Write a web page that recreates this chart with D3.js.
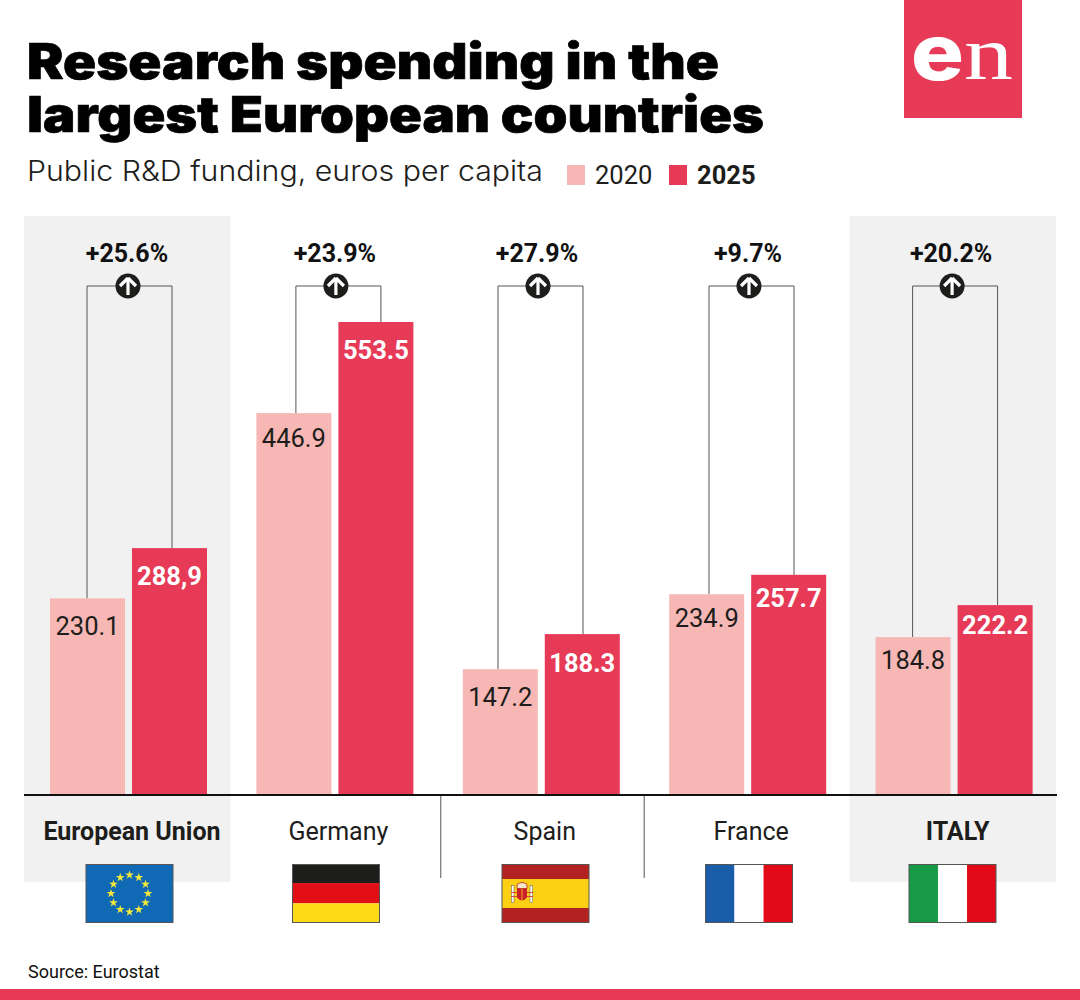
<!DOCTYPE html>
<html>
<head>
<meta charset="utf-8">
<script src="https://cdn.jsdelivr.net/npm/d3@7"></script>
<style>
    html, body { margin: 0; padding: 0; background: #fff; }
    svg { display: block; }
    text { font-family: Roboto, sans-serif; fill: #1d1d1b; }
</style>
</head>
<body>
<svg id="chart"></svg>
<script>
// Data
const countries = ['European Union', 'Germany', 'Spain', 'France', 'ITALY'];
const years = ['2020', '2025'];
const values2020 = [230.1, 446.9, 147.2, 234.9, 184.8];
const values2025 = [288.9, 553.5, 188.3, 257.7, 222.2];
const labels2020 = ['230.1', '446.9', '147.2', '234.9', '184.8'];
const labels2025 = ['288,9', '553.5', '188.3', '257.7', '222.2'];
const changes = ['+25.6%', '+23.9%', '+27.9%', '+9.7%', '+20.2%'];
const highlighted = ['European Union', 'ITALY'];

const width = 1080, height = 1000;
const red = '#e63a56', pale = '#f7b8b5', grey = '#f1f1f1', ink = '#1d1d1b';

// The original was laid out by hand, so these are small per-country nudges
const labelNudge2020 = [1, -2, 1, -3, -4];
const labelNudge2025 = [0, 0, 1, -5, -8];
const badgeNudge = [-0.5, 1, -3.3, 1.3, -2];
const bracketNudge = [1, 3.5, -0.8, 3.8, 1];

const svg = d3.select('#chart')
    .attr('width', width)
    .attr('height', height);

// Scales
const xScale = d3.scaleBand()
    .domain(countries)
    .range([24, 1056]);

const xYear = d3.scaleBand()
    .domain(years)
    .range([26, 183])
    .paddingInner(0.085);

const yScale = d3.scaleLinear()
    .domain([0, 553.5])
    .range([795, 322]);

const rows = countries.map((c, i) => ({
    country: c,
    v2020: values2020[i],
    v2025: values2025[i],
    l2020: labels2020[i],
    l2025: labels2025[i],
    change: changes[i],
    n2020: labelNudge2020[i],
    n2025: labelNudge2025[i],
    nBadge: badgeNudge[i],
    nBracket: bracketNudge[i]
}));

// Grey panels behind EU and Italy
svg.selectAll('.panel')
    .data(highlighted)
    .enter()
    .append('rect')
    .attr('class', 'panel')
    .attr('x', d => xScale(d))
    .attr('y', 216)
    .attr('width', xScale.bandwidth())
    .attr('height', 666)
    .attr('fill', grey);

// Title block
const title = svg.append('text')
    .style('font-family', 'Inter, sans-serif')
    .style('font-weight', 900)
    .style('font-size', '49px')
    .style('fill', '#000')
    .style('stroke', '#000')
    .style('stroke-width', 0.7);

title.append('tspan').attr('x', 27).attr('y', 79).attr('textLength', 692)
    .attr('lengthAdjust', 'spacingAndGlyphs').text('Research spending in the');
title.append('tspan').attr('x', 27).attr('y', 132).attr('textLength', 737)
    .attr('lengthAdjust', 'spacingAndGlyphs').text('largest European countries');

svg.append('text')
    .attr('x', 27)
    .attr('y', 181)
    .attr('textLength', 516)
    .attr('lengthAdjust', 'spacingAndGlyphs')
    .style('font-family', 'Inter, sans-serif')
    .style('font-weight', 300)
    .style('font-size', '28px')
    .text('Public R&D funding, euros per capita');

// Legend
const legendX = d3.scaleOrdinal().domain(years).range([567, 669]);
const legend = svg.selectAll('.legend')
    .data(years)
    .enter()
    .append('g')
    .attr('class', 'legend')
    .attr('transform', d => `translate(${legendX(d)},165)`);

legend.append('rect')
    .attr('width', 18)
    .attr('height', 20)
    .attr('fill', d => d === '2020' ? pale : red);

legend.append('text')
    .attr('x', 28)
    .attr('y', 19)
    .style('font-size', '25.5px')
    .style('font-weight', d => d === '2025' ? 700 : 400)
    .text(d => d);

// Logo
svg.append('rect').attr('x', 904).attr('y', 0).attr('width', 118).attr('height', 118).attr('fill', red);
svg.append('text').attr('x', 911).attr('y', 80).attr('textLength', 53).attr('lengthAdjust', 'spacingAndGlyphs')
    .style('font-family', 'Inter, sans-serif').style('font-weight', 800).style('font-size', '78px')
    .style('fill', '#fff').text('e');
svg.append('text').attr('x', 964).attr('y', 79).attr('textLength', 49).attr('lengthAdjust', 'spacingAndGlyphs')
    .style('font-family', '"Liberation Serif", serif').style('font-size', '76px')
    .style('fill', '#fff').text('n');

// Bars and labels
const groups = svg.selectAll('.group')
    .data(rows)
    .enter()
    .append('g')
    .attr('class', 'group')
    .attr('transform', d => `translate(${xScale(d.country)},0)`);

const mid2020 = xYear('2020') + xYear.bandwidth() / 2;
const mid2025 = xYear('2025') + xYear.bandwidth() / 2;
const midGroup = (mid2020 + mid2025) / 2;

// Brackets above the bars
groups.append('path')
    .attr('d', d => {
        const top = yScale(553.5) - 36;
        const c = midGroup + d.nBracket;
        return d3.line()([
            [c - 42.5, yScale(d.v2020)],
            [c - 42.5, top],
            [c + 42.5, top],
            [c + 42.5, yScale(d.v2025)]
        ]);
    })
    .attr('fill', 'none')
    .attr('stroke', '#555')
    .attr('stroke-width', 1);

groups.append('rect')
    .attr('x', xYear('2020'))
    .attr('y', d => yScale(d.v2020))
    .attr('width', xYear.bandwidth())
    .attr('height', d => yScale(0) - yScale(d.v2020))
    .attr('fill', pale);

groups.append('rect')
    .attr('x', xYear('2025'))
    .attr('y', d => yScale(d.v2025))
    .attr('width', xYear.bandwidth())
    .attr('height', d => yScale(0) - yScale(d.v2025))
    .attr('fill', red);

groups.append('text')
    .attr('x', mid2020)
    .attr('y', d => yScale(d.v2020) + 36 + d.n2020)
    .attr('text-anchor', 'middle')
    .style('font-size', '25.5px')
    .text(d => d.l2020);

groups.append('text')
    .attr('x', mid2025)
    .attr('y', d => yScale(d.v2025) + 37 + d.n2025)
    .attr('text-anchor', 'middle')
    .style('font-size', '25.5px')
    .style('font-weight', 700)
    .style('fill', '#fff')
    .text(d => d.l2025);

// Change label and arrow badge
groups.append('text')
    .attr('x', d => midGroup + d.nBadge - 1)
    .attr('y', 262)
    .attr('text-anchor', 'middle')
    .style('font-size', '25px')
    .style('font-weight', 700)
    .style('fill', '#111')
    .text(d => d.change);

const badge = groups.append('g')
    .attr('transform', d => `translate(${midGroup + d.nBadge},286)`);

badge.append('circle').attr('r', 12.5).attr('fill', ink);
badge.append('path')
    .attr('d', 'M0,-8 L8,0 M0,-8 L-8,0 M0,-8 L0,9')
    .attr('fill', 'none')
    .attr('stroke', '#fff')
    .attr('stroke-width', 3.2);

// Axis line and dividers
svg.selectAll('.divider')
    .data(['Spain', 'France'])
    .enter()
    .append('line')
    .attr('class', 'divider')
    .attr('x1', d => xScale(d) + (d === 'Spain' ? 4 : 1))
    .attr('x2', d => xScale(d) + (d === 'Spain' ? 4 : 1))
    .attr('y1', 795)
    .attr('y2', 878)
    .attr('stroke', '#555')
    .attr('stroke-width', 1);

svg.append('line')
    .attr('x1', 24)
    .attr('x2', 1057)
    .attr('y1', yScale(0))
    .attr('y2', yScale(0))
    .attr('stroke', '#111')
    .attr('stroke-width', 2);

// Country names
groups.append('text')
    .attr('x', xYear('2025'))
    .attr('y', 839.5)
    .attr('text-anchor', 'middle')
    .style('font-size', '25px')
    .style('font-weight', d => highlighted.includes(d.country) ? 700 : 400)
    .text(d => d.country);

// Flags
const flagW = 87, flagH = 58, flagY = 864.5;
const flagX = d3.scaleOrdinal().domain(countries).range([86, 292.5, 502, 705.5, 909]);

function stripes(g, cols, horizontal, shares) {
    let pos = 0;
    cols.forEach((c, i) => {
        const size = shares[i];
        g.append('rect')
            .attr('x', horizontal ? 0 : pos * flagW)
            .attr('y', horizontal ? pos * flagH : 0)
            .attr('width', horizontal ? flagW : size * flagW)
            .attr('height', horizontal ? size * flagH : flagH)
            .attr('fill', c);
        pos += size;
    });
}

const flags = svg.selectAll('.flag')
    .data(countries)
    .enter()
    .append('g')
    .attr('class', 'flag')
    .attr('transform', d => `translate(${flagX(d)},${flagY})`)
    .each(function (d) {
        const g = d3.select(this);
        if (d === 'European Union') {
            g.append('rect').attr('width', flagW).attr('height', flagH).attr('fill', '#0f69b4');
            d3.range(12).forEach(i => {
                const a = i * Math.PI / 6;
                g.append('path')
                    .attr('d', d3.symbol(d3.symbolStar, 24)())
                    .attr('transform', `translate(${flagW / 2 + 18.5 * Math.sin(a)},${flagH / 2 - 18.5 * Math.cos(a)})`)
                    .attr('fill', '#f5e83c');
            });
        } else if (d === 'Germany') {
            stripes(g, ['#1d1d1b', '#e30f17', '#fdd916'], true, [0.32, 0.35, 0.33]);
        } else if (d === 'Spain') {
            stripes(g, ['#b42121', '#fed014', '#b42121'], true, [0.25, 0.5, 0.25]);
            // small coat of arms
            const arms = g.append('g').attr('transform', 'translate(20,29)');
            arms.append('rect').attr('x', -10.5).attr('y', -8).attr('width', 2.5).attr('height', 17).attr('fill', '#fff').attr('stroke', '#555').attr('stroke-width', 0.5);
            arms.append('rect').attr('x', 8).attr('y', -8).attr('width', 2.5).attr('height', 17).attr('fill', '#fff').attr('stroke', '#555').attr('stroke-width', 0.5);
            arms.append('path').attr('d', 'M-11,-1 L11,-1 M-11,3 L11,3').attr('stroke', '#d8423f').attr('stroke-width', 1.2);
            arms.append('path').attr('d', 'M-5,-9 Q0,-13 5,-9 L5,-5 L-5,-5 Z').attr('fill', '#f4e6c8').attr('stroke', '#b42121').attr('stroke-width', 0.8);
            arms.append('path').attr('d', 'M-5,-5 L5,-5 L5,4 Q0,10 -5,4 Z').attr('fill', '#c8202a');
            arms.append('path').attr('d', 'M0,-5 L0,7').attr('stroke', '#fed014').attr('stroke-width', 0.8);
        } else if (d === 'France') {
            stripes(g, ['#195ca8', '#ffffff', '#e30a17'], false, [0.333, 0.334, 0.333]);
        } else {
            stripes(g, ['#169a45', '#ffffff', '#e30a17'], false, [0.333, 0.334, 0.333]);
        }
    });

flags.append('rect')
    .attr('width', flagW)
    .attr('height', flagH)
    .attr('fill', 'none')
    .attr('stroke', '#555')
    .attr('stroke-width', 1);

// Source and footer
svg.append('text')
    .attr('x', 28)
    .attr('y', 978)
    .style('font-size', '18px')
    .style('fill', '#111')
    .text('Source: Eurostat');

svg.append('rect')
    .attr('x', 0)
    .attr('y', 989)
    .attr('width', width)
    .attr('height', 11)
    .attr('fill', red);
</script>
</body>
</html>
